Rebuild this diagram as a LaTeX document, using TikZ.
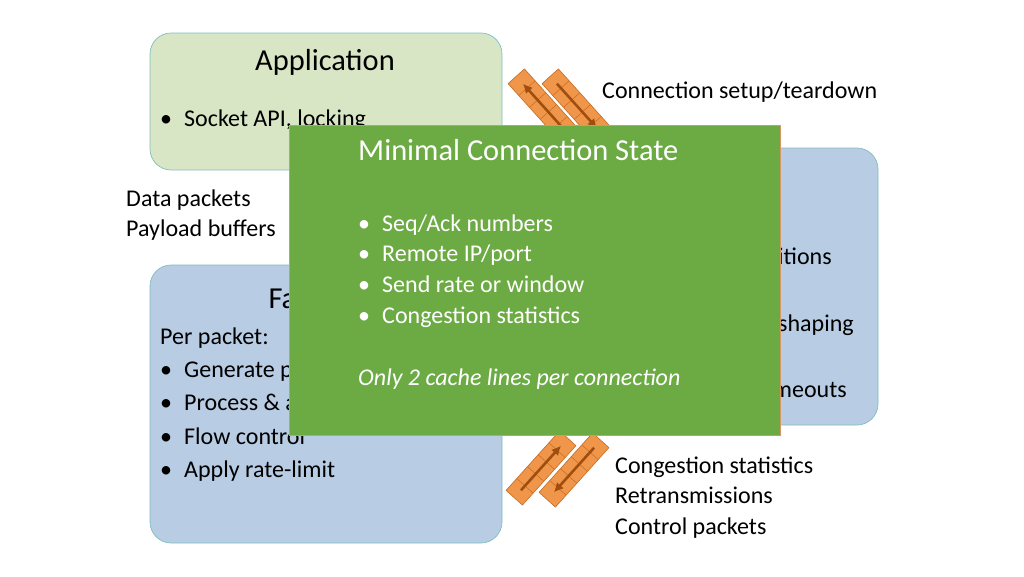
\documentclass[tikz,border=0pt]{standalone}
\usepackage{fontspec}
\setmainfont{Carlito}
\usetikzlibrary{arrows.meta}
\definecolor{appgreen}{HTML}{D8E6C6}
\definecolor{pathblue}{HTML}{B8CCE4}
\definecolor{stategreen}{HTML}{6CAA44}
\definecolor{barorange}{HTML}{F0964A}
\definecolor{barline}{HTML}{C46A20}
\definecolor{arrowbrown}{HTML}{A04E10}
\tikzset{
  box/.style={draw, rounded corners=18pt, line width=0.6pt},
  txt/.style={anchor=west, inner sep=0pt, text height=9pt, text depth=2pt, font=\fontsize{20.5}{24}\selectfont},
  title/.style={inner sep=0pt, font=\fontsize{26}{29}\selectfont},
}
\newcommand{\queuebar}[4]{% center x, y, angle, arrow direction
  \begin{scope}[shift={(#1,#2)}, rotate=#3]
    \draw[fill=barorange, draw=barline, line width=0.5pt] (-40,-11) rectangle (40,11);
    \foreach \k in {-24,-8,8,24} \draw[barline, line width=0.4pt] (\k,-11) -- (\k,11);
    \draw[barline, line width=0.4pt] (-24,0) -- (24,0);
    \draw[arrowbrown, line width=2.2pt, -{Latex[length=8pt,width=8pt]}] (-#4*30,0) -- (#4*30,0);
  \end{scope}}
\begin{document}
\begin{tikzpicture}[x=0.03cm, y=-0.03cm]
  \useasboundingbox (0,0) rectangle (1024,576);
  % application box
  \draw[box, fill=appgreen, draw=teal!50] (150,33) rectangle (502,170);
  \node[title] (app) at (325,62) {Application};
  \node[txt] (sock) at (160,122) {\textbullet\enspace Socket API, locking};
  % slow path box
  \draw[box, fill=pathblue, draw=teal!50] (590,148) rectangle (878,425);
  \node[txt, anchor=east] (conn) at (832,260) {Connection transitions};
  \node[txt, anchor=east] (shape) at (854,327) {Traffic shaping};
  \node[txt, anchor=east] (tout) at (847,393) {Timeouts};
  % fast path box
  \draw[box, fill=pathblue, draw=teal!50] (150,265) rectangle (502,543);
  \node[title] (fast) at (325,300) {Fast path};
  \node[txt] (per) at (160,340) {Per packet:};
  \node[txt] (gen) at (160,373) {\textbullet\enspace Generate packets};
  \node[txt] (proc) at (160,406) {\textbullet\enspace Process \& ack};
  \node[txt] (flow) at (160,440) {\textbullet\enspace Flow control};
  \node[txt] (rate) at (160,473) {\textbullet\enspace Apply rate-limit};
  % queues
  \queuebar{543}{106}{-48}{-1}
  \queuebar{577}{106}{-48}{1}
  \queuebar{541}{468}{48}{1}
  \queuebar{574}{470}{48}{-1}
  % connection state
  \draw[fill=stategreen, draw=barline!70, line width=0.6pt] (289,125) rectangle (780,435);
  \node[title, white, anchor=west] (state) at (358,150) {Minimal Connection State};
  \node[txt, white] (seq) at (358,227) {\textbullet\enspace Seq/Ack numbers};
  \node[txt, white] (ip) at (358,257) {\textbullet\enspace Remote IP/port};
  \node[txt, white] (win) at (358,288) {\textbullet\enspace Send rate or window};
  \node[txt, white] (cong) at (358,319) {\textbullet\enspace Congestion statistics};
  \node[txt, white] (only) at (358,381) {\itshape Only 2 cache lines per connection};
  % labels
  \node[txt] (setup) at (602,94) {Connection setup/teardown};
  \node[txt] (data1) at (126,202) {Data packets};
  \node[txt] (data2) at (126,232) {Payload buffers};
  \node[txt] (l1) at (615,469) {Congestion statistics};
  \node[txt] (l2) at (615,499) {Retransmissions};
  \node[txt] (l3) at (615,530) {Control packets};
\end{tikzpicture}
\end{document}
